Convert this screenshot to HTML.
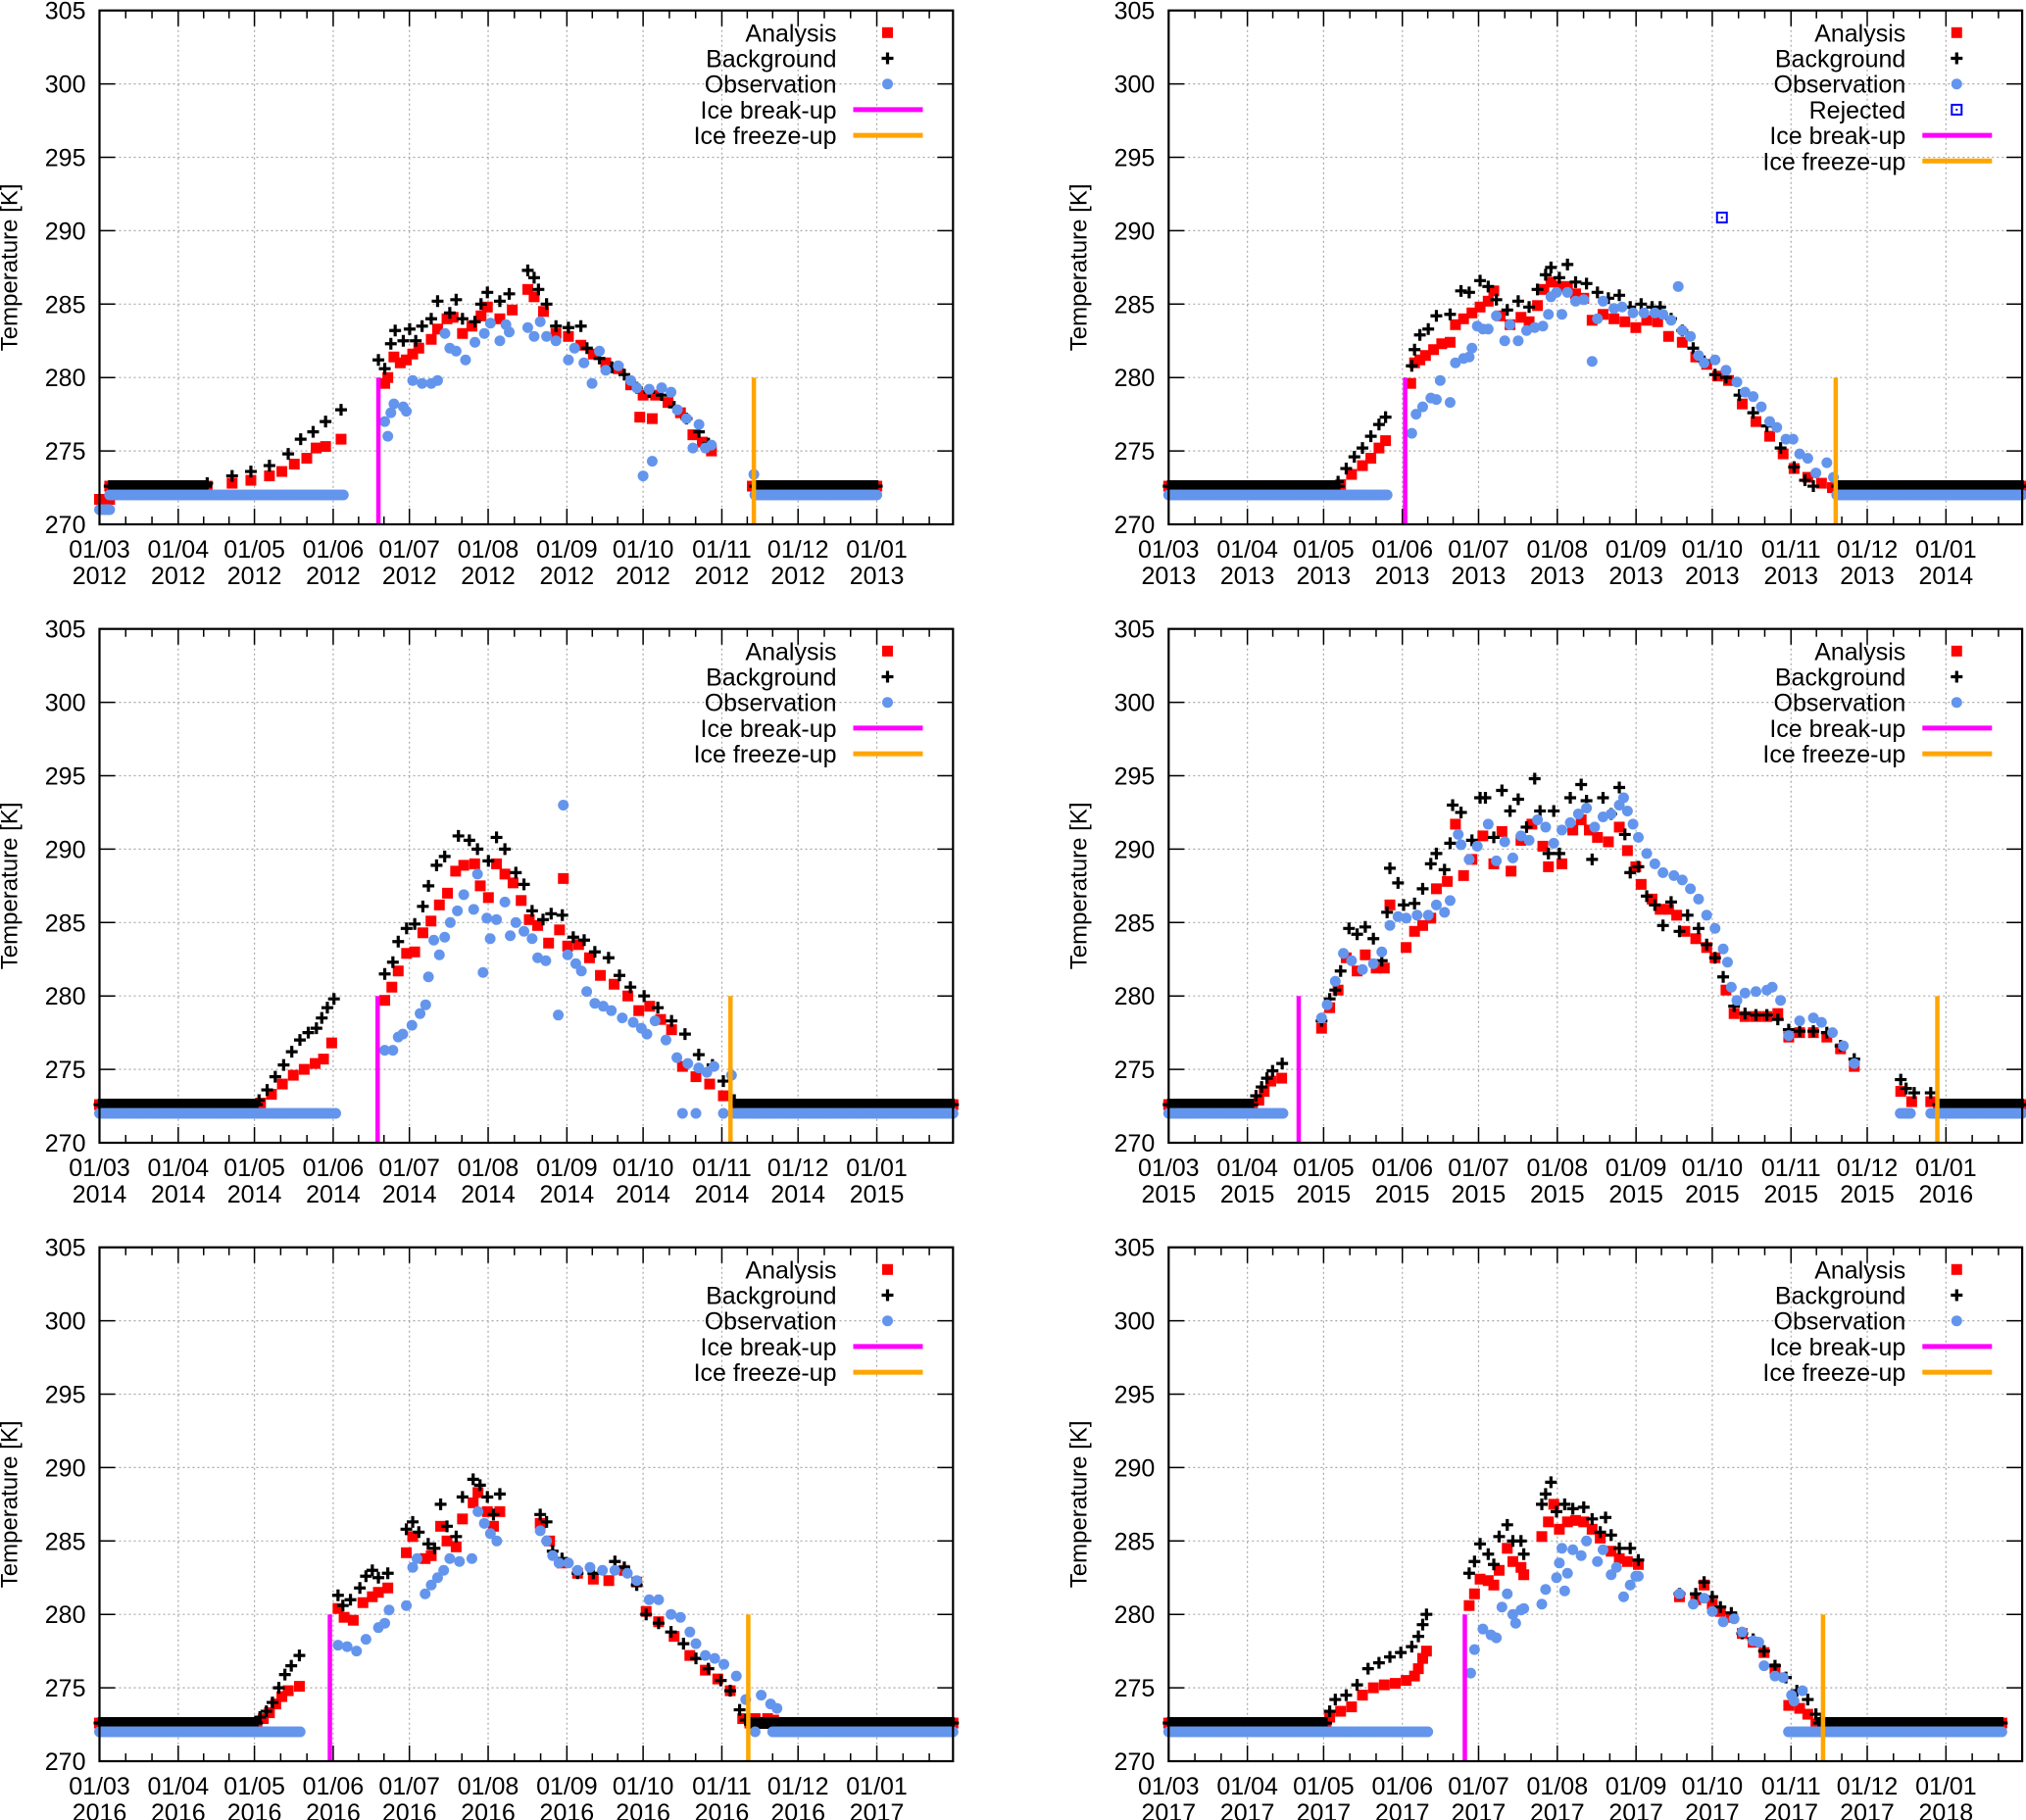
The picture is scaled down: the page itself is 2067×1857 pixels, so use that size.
<!DOCTYPE html>
<html><head><meta charset="utf-8"><title>Lake temperature panels</title>
<style>
html,body{margin:0;padding:0;background:#fff;}
svg{display:block;font-family:"Liberation Sans",sans-serif;}
</style></head>
<body>
<svg id="chart" width="2067" height="1857" viewBox="0 0 2067 1857" xmlns="http://www.w3.org/2000/svg"></svg>
<script>
// ---------- data ----------
const monthTickDays = [0,31,61,92,122,153,184,214,245,275,306];
const monthTickLabels = ["01/03","01/04","01/05","01/06","01/07","01/08","01/09","01/10","01/11","01/12","01/01"];
const yTicks = [270,275,280,285,290,295,300,305];
const panelYears = [2012,2013,2014,2015,2016,2017];

// 2012
const an2012Flat = [[0,4,271.7],[4,42,272.6],[257,306,272.6]];
const bg2012Flat = [[4,42,272.6],[258,306,272.6]];
const ob2012Flat = [[0,4,271.0],[4,96,272.0],[258,306,272.0]];
const an2012 = [[42.4,272.6],[52.2,272.8],[59.6,273.0],[66.9,273.3],[71.8,273.6],[76.7,274.1],[81.6,274.5],[85.3,275.2],[89,275.3],[95.1,275.8],
[112.3,279.6],[113.5,280.0],[115.9,281.4],[118.4,281.0],[120.8,281.2],[123.3,281.6],[125.7,282.0],[130.6,282.6],[133.1,283.3],[136.8,284.0],[139.2,284.1],[142.9,283.0],[146.6,283.5],[150.2,284.2],[152.7,284.8],[157.6,284.0],[162.5,284.6],[168.6,286.0],[171.1,285.5],[174.8,284.5],[179.7,283.0],[184.6,282.8],[189.5,282.2],[194.4,281.6],[199.3,281.0],[204.2,280.6],[209.1,279.5],[212.7,277.3],[214,278.8],[217.6,277.2],[218.9,278.8],[223.8,278.3],[228.7,277.6],[233.6,276.1],[237.3,275.6],[240.9,275.0]];
const bg2012 = [[42.4,272.8],[52.2,273.3],[59.6,273.6],[66.9,274.0],[74.3,274.8],[79.2,275.8],[84.1,276.3],[89,277.0],[95.1,277.8],
[109.8,281.2],[112.3,280.6],[114.7,282.3],[116.4,283.2],[119.6,282.5],[122.1,283.3],[124.5,282.5],[127,283.5],[130.6,284.0],[133.1,285.2],[137.9,284.4],[140.4,285.3],[142.9,284.0],[147.8,283.8],[150.2,285.0],[152.7,285.8],[157.6,285.2],[161.3,285.7],[168.6,287.3],[171.1,286.8],[172.8,286.0],[176,285.0],[179.7,283.5],[184.6,283.4],[189.5,283.5],[191.9,282.0],[196.8,281.3],[201.7,280.7],[206.6,280.2],[211.5,279.3],[216.4,279.0],[221.3,278.8],[226.2,278.0],[231.1,277.2],[236,276.3],[239.7,275.5]];
const ob2012 = [[113.5,276.0],[112.3,277.0],[114.7,277.6],[115.9,278.2],[119.6,278.0],[120.8,277.7],[123.3,279.8],[127,279.6],[130.6,279.6],[133.1,279.8],[136,283.0],[137.9,282.0],[140.4,281.8],[144.1,281.2],[147.8,282.4],[151.5,283.0],[153.9,283.7],[157.6,282.5],[160,283.6],[161.3,283.1],[168.6,283.4],[171.1,282.8],[173.5,283.8],[176,282.8],[179.7,282.5],[184.6,281.2],[187,282.0],[190.7,281.0],[193.9,279.6],[196.8,281.8],[199.3,280.5],[204.2,280.8],[209.1,279.8],[211.5,279.3],[214,273.3],[216.4,279.2],[217.6,274.3],[221.3,279.3],[225,279.0],[227.5,277.8],[231.1,277.2],[233.6,275.2],[236,276.8],[238.5,275.2],[240.9,275.4],[257.6,273.4]];

// 2013
const an2013Flat = [[0,67,272.6],[263,336,272.6]];
const bg2013Flat = [[0,67,272.6],[263,336,272.6]];
const ob2013Flat = [[0,86,272.0],[263,336,272.0]];
const an2013 = [[67.7,272.7],[72,273.4],[76.3,274.0],[79.6,274.5],[82.8,275.2],[85.4,275.7],
[95.3,279.6],[96.8,281.0],[98.9,281.2],[101.1,281.5],[104.3,281.9],[107.5,282.3],[110.8,282.4],[112.9,283.6],[116.1,284.0],[119.4,284.4],[122.6,284.8],[125.8,285.2],[128,285.9],[130.5,284.2],[134.4,283.6],[138.7,284.1],[141.9,283.8],[145.2,284.9],[147.7,286.0],[150.5,286.5],[153.8,286.2],[157,286.2],[160.2,285.7],[163.4,285.4],[166.7,283.9],[171,284.3],[175.3,284.0],[179.6,283.8],[183.9,283.4],[188.2,283.9],[192.5,283.8],[196.8,282.8],[202.2,282.4],[207.5,281.4],[211.8,280.9],[216.1,280.1],[220.4,279.8],[225.8,278.2],[231.2,277.0],[236.6,276.0],[241.9,274.8],[246.2,273.8],[251.6,273.2],[257,272.8],[261.3,272.5]];
const bg2013 = [[66.7,272.9],[69.9,273.8],[73.1,274.6],[76.3,275.2],[79.6,276.0],[82.8,276.8],[85.4,277.3],
[95.7,280.8],[96.8,281.9],[98.9,282.9],[102.2,283.3],[105.4,284.2],[110.8,284.3],[115.1,285.9],[118.3,285.8],[122.6,286.6],[125.8,286.2],[129,285.3],[133.3,284.6],[137.6,285.2],[141.9,284.8],[145.2,286.0],[148.4,287.0],[150.5,287.5],[153.8,286.8],[157,287.7],[160.2,286.5],[164.5,286.4],[168.8,285.8],[173.1,285.4],[177.4,285.6],[181.7,284.8],[186,285.0],[190.3,284.8],[193.5,284.8],[197.8,284.0],[202.2,283.2],[206.5,282.0],[210.8,281.1],[215.1,280.2],[219.4,280.0],[224.7,278.8],[230.1,277.6],[235.5,276.7],[240.9,275.2],[246.2,273.9],[250.5,273.0],[253.8,272.6]];
const ob2013 = [[95.7,276.2],[97.4,277.5],[100,278.0],[103.2,278.6],[105.4,278.5],[106.9,279.8],[110.8,278.3],[112.9,281.0],[116.1,281.3],[118.3,281.4],[119.4,282.0],[121.5,283.5],[123.7,283.3],[125.8,283.3],[129,284.2],[132.3,282.5],[134.4,283.6],[137.6,282.5],[140.9,283.2],[144.1,283.4],[147.3,283.5],[149.5,284.3],[150.5,285.5],[152.7,285.8],[154.8,284.3],[157,285.8],[160.2,285.2],[163.4,285.3],[166.7,281.1],[168.8,284.0],[171,285.2],[175.3,284.7],[178.5,284.8],[182.8,284.4],[187.1,284.4],[191.4,284.4],[194.6,284.3],[197.8,283.9],[200.6,286.2],[202.2,283.2],[205.4,282.8],[208.6,281.5],[210.8,281.0],[215.1,281.2],[219.4,280.5],[223.7,279.7],[226.9,279.0],[230.1,278.7],[233.3,278.0],[236.6,277.0],[239.4,276.6],[243,275.8],[245.8,275.8],[248.4,274.8],[251.6,274.5],[254.8,273.5],[259.1,274.2],[261.7,273.2]];
const rej2013 = [[217.8,290.9]];

// 2014
const an2014Flat = [[0,62,272.6],[250,336,272.6]];
const bg2014Flat = [[0,62,272.6],[250,336,272.6]];
const ob2014Flat = [[0,93,272.0],[250,336,272.0]];
const an2014 = [[63.4,272.7],[67.7,273.3],[72,274.0],[76.3,274.6],[80.6,275.0],[84.9,275.4],[88.2,275.7],[91.4,276.8],
[112.3,279.7],[115.1,280.6],[117.6,281.7],[120.9,282.9],[124.1,283.0],[127.3,284.3],[130.5,285.1],[133.8,286.2],[137,287.0],[140.2,288.5],[143.4,288.9],[147.7,289.0],[149.9,287.5],[153.1,286.7],[156.3,289.0],[159.6,288.3],[162.8,287.7],[166,286.5],[169.2,285.2],[172.5,284.8],[176.8,283.6],[181.1,284.5],[182.6,288.0],[184.3,283.4],[188.6,283.5],[192.9,282.6],[197.2,281.4],[202.6,280.8],[208,280.0],[212.3,279.0],[216.6,279.3],[220.9,278.4],[225.2,277.7],[229.5,275.2],[234.8,274.5],[240.2,274.0],[245.6,273.2],[249.9,272.6]];
const bg2014 = [[62.8,272.9],[66,273.6],[69.2,274.5],[72.5,275.3],[75.7,276.2],[78.9,277.0],[82.2,277.5],[85.4,277.8],[87.5,278.5],[89.7,279.2],[92.3,279.8],
[112.3,281.5],[115.5,282.3],[117.6,283.7],[120.9,284.6],[124.1,284.9],[127.3,286.1],[129.5,287.5],[132.7,288.9],[135.9,289.5],[141.3,290.9],[145.6,290.6],[148.8,290.0],[153.1,289.2],[156.3,290.8],[159.6,290.0],[163.9,288.4],[167.1,287.6],[170.3,285.8],[174.6,285.2],[177.8,285.6],[182.2,285.5],[186.5,284.0],[190.8,283.8],[195,283.0],[200.4,282.6],[204.7,281.4],[209,280.6],[214.4,280.0],[219.8,279.2],[225.2,278.3],[230.5,277.4],[235.9,276.0],[241.3,275.3],[245.6,274.2],[249.9,272.9]];
const ob2014 = [[112.3,276.3],[115.5,276.3],[117.6,277.2],[119.4,277.4],[123,278.0],[126.2,278.8],[128.4,279.4],[129.5,281.3],[131.6,283.8],[133.8,282.8],[135.9,284.0],[138.1,285.0],[140.9,285.8],[143.4,286.9],[147.3,285.9],[148.8,288.3],[151,281.6],[152.5,285.3],[153.8,283.9],[156.3,285.2],[159.6,286.4],[161.7,284.1],[163.9,285.0],[167.1,284.4],[170.3,283.9],[172.5,282.6],[175.7,282.4],[180.6,278.7],[182.6,293.0],[184.3,282.8],[187.5,282.2],[189.7,281.7],[191.8,280.3],[195,279.5],[198.3,279.3],[201.5,279.0],[205.8,278.5],[210.1,278.2],[213.3,277.8],[215.5,277.4],[218.7,278.3],[223,277.0],[227.3,275.8],[229.5,272.0],[231.6,275.4],[234.8,272.0],[235.9,275.1],[239.1,274.8],[241.9,275.2],[245.6,272.0],[248.8,274.6]];

// 2015
const an2015Flat = [[0,33,272.6],[303,336,272.6]];
const bg2015Flat = [[0,33,272.6],[303,336,272.6]];
const ob2015Flat = [[0,45,272.0],[288,292,272.0],[300,336,272.0]];
const an2015 = [[35.5,272.9],[37.6,273.5],[40.2,274.2],[44.5,274.4],
[60.2,277.8],[63.4,279.2],[66.7,280.4],[69.9,282.6],[74.2,281.7],[77.4,282.8],[81.7,281.9],[84.9,281.9],[87.1,286.2],[93.5,283.3],[96.8,284.4],[100,284.8],[103.2,285.3],[105.4,287.3],[109.7,287.8],[112.9,291.7],[116.1,288.2],[119.4,289.3],[123.7,290.9],[128,289.0],[131.2,291.2],[134.8,288.5],[138.7,290.6],[143,291.7],[147.3,290.2],[149.5,288.8],[154.8,289.0],[159.1,291.3],[162.4,292.0],[165.6,291.3],[168.8,290.8],[173.1,290.5],[177.4,291.5],[180.6,289.9],[183.9,288.8],[186,287.6],[190.3,286.6],[193.5,285.9],[196.8,285.9],[200,285.5],[203.2,284.4],[207.5,283.9],[211.8,283.3],[215.1,282.6],[219.4,280.4],[222.6,278.8],[226.9,278.6],[231.2,278.6],[235.5,278.6],[239.8,278.8],[244.1,277.2],[248.4,277.5],[253.8,277.5],[259.1,277.2],[264.5,276.4],[269.9,275.2],
[288.2,273.5],[292.5,272.8],[300,272.8]];
const bg2015 = [[34.4,273.2],[36.6,273.8],[38.7,274.4],[40.9,274.9],[44.7,275.4],
[60.2,278.3],[63.4,279.8],[65.6,280.4],[67.7,281.7],[71,284.6],[74.2,284.2],[77.4,284.7],[80.6,283.9],[83.9,282.4],[86,285.7],[87.1,288.7],[90.3,287.7],[92.5,286.2],[96.8,286.3],[100,287.3],[103.2,289.0],[105.4,289.7],[108.6,288.6],[110.8,290.4],[111.8,293.0],[115.1,292.5],[119.4,290.6],[122.6,293.5],[124.7,293.5],[128,290.8],[131.2,294.0],[134.4,292.6],[137.6,293.4],[140.9,291.5],[144.1,294.8],[146.2,292.6],[149.5,289.7],[151.6,292.6],[153.8,289.7],[158.1,293.5],[162.4,294.4],[164.5,293.3],[166.7,289.3],[171,293.5],[174.2,292.4],[177.4,294.2],[179.6,291.0],[181.7,288.4],[184.9,288.8],[188.2,286.8],[191.4,286.2],[194.6,284.8],[197.8,286.4],[201.1,284.4],[204.3,285.5],[208.6,284.6],[211.8,283.5],[215.1,282.6],[218.3,281.3],[222.6,279.3],[226.9,278.8],[231.2,278.7],[235.5,278.7],[239.8,278.4],[244.1,277.7],[248.4,277.6],[253.8,277.6],[259.1,277.5],[264.5,276.6],[269.9,275.7],
[288.2,274.3],[290.3,273.7],[293.5,273.4],[300,273.4]];
const ob2015 = [[60.2,278.5],[62.4,279.4],[65.6,281.0],[68.8,282.9],[72,282.4],[76.3,281.8],[80.6,282.2],[83.9,283.0],[87.1,284.8],[90.3,285.4],[93.5,285.3],[97.8,285.5],[102.2,285.5],[105.4,286.2],[108.6,285.7],[110.8,286.5],[114,291.0],[115.1,290.3],[118.3,289.3],[121.5,290.2],[125.8,291.7],[129,289.2],[132.3,290.5],[135.5,289.4],[138.7,290.9],[141.9,290.6],[145.2,292.0],[148.4,291.5],[151.6,290.4],[154.8,291.3],[158.1,291.8],[161.3,292.4],[164.5,292.8],[167.7,291.5],[171,292.2],[174.2,292.4],[177.4,293.0],[179.1,293.5],[180.6,292.6],[182.8,291.7],[184.9,290.8],[188.2,289.7],[191.4,289.0],[194.6,288.4],[198.9,288.2],[202.2,287.9],[205.4,287.3],[208.6,286.6],[211.8,285.5],[215.1,284.6],[218.3,283.2],[220,282.3],[221.5,280.6],[223.7,279.7],[226.9,280.2],[231.2,280.3],[235.5,280.4],[237.6,280.6],[240.9,279.7],[244.1,277.3],[248.4,278.3],[253.8,278.5],[257,278.2],[261.3,277.5],[265.6,276.6],[269.9,275.4]];

// 2016
const an2016Flat = [[0,62,272.6],[256,336,272.6]];
const bg2016Flat = [[0,62,272.6],[256,336,272.6]];
const ob2016Flat = [[0,79,272.0],[265,336,272.0]];
const an2016 = [[64.5,272.9],[66.9,273.3],[69.4,273.9],[71.8,274.4],[74.3,274.8],[78.7,275.1],
[93.9,280.4],[96.3,279.8],[99.9,279.6],[103.7,280.8],[107.4,281.2],[109.8,281.5],[113.5,281.8],[120.8,284.2],[123.3,285.3],[128.2,283.8],[130.6,284.0],[134.3,286.0],[136.8,285.0],[140.4,284.6],[142.9,286.5],[147.1,287.6],[149,288.3],[152.7,287.0],[155.1,286.0],[157.6,287.0],[173.5,286.2],[177.2,285.0],[182.1,283.5],[188.2,282.8],[194.4,282.4],[200.5,282.3],[206.6,283.0],[211.5,282.2],[215.2,280.2],[220.1,279.5],[226.2,278.5],[232.4,277.2],[238.5,276.2],[243.4,275.6],[248.3,274.8],[253.2,272.9],[258.1,272.9],[263,272.9],[265.4,272.8]];
const bg2016 = [[63.2,273.0],[65.7,273.4],[68.1,274.0],[70.6,275.0],[73,275.9],[75.5,276.5],[78.7,277.2],
[93.9,281.3],[95.8,280.6],[98.8,281.0],[102.5,281.8],[104.9,282.6],[107.4,283.0],[109.8,282.5],[113.5,282.8],[120.8,285.8],[123.3,286.3],[125.7,285.6],[129.4,284.8],[131.9,284.5],[134.3,287.5],[136.8,286.0],[140.4,285.3],[142.9,288.0],[147.1,289.2],[149.8,288.8],[152.7,288.0],[155.1,286.8],[157.6,288.2],[173.5,286.8],[176,286.3],[178.4,284.3],[182.1,283.8],[188.2,282.8],[194.4,282.8],[202.9,283.6],[206.6,283.2],[211.5,282.0],[215.2,280.0],[220.1,279.4],[225,278.8],[229.9,278.0],[234.8,277.0],[239.7,276.3],[244.6,275.5],[248.3,274.8],[252,273.5],[254.4,272.8]];
const ob2016 = [[93.9,277.9],[97.5,277.8],[101.2,277.5],[104.9,278.3],[109.8,279.1],[112.3,279.4],[114,280.3],[120.8,280.6],[123.3,283.2],[125,283.8],[128.2,281.4],[130.6,282.0],[133.1,282.5],[135.5,283.0],[137.9,283.8],[141.7,283.6],[146.6,283.8],[149,287.0],[151.5,286.2],[153.9,285.5],[156.4,285.0],[173.5,285.7],[176,285.0],[178.4,284.0],[180.9,283.5],[184.6,283.5],[188.2,283.0],[193.1,283.2],[198,283.0],[202.9,283.0],[207.8,282.8],[211.5,282.3],[216.4,281.0],[220.1,281.0],[225,280.0],[228.7,279.8],[232.4,278.8],[234.8,278.0],[238.5,277.2],[242.2,277.0],[245.8,276.6],[250.7,275.8],[254.4,274.2],[258.1,272.0],[260.5,274.5],[264.2,273.9],[266.7,273.6]];

// 2017
const an2017Flat = [[0,62,272.6],[256,328,272.6]];
const bg2017Flat = [[0,62,272.6],[256,328,272.6]];
const ob2017Flat = [[0,102,272.0],[244,328,272.0]];
const an2017 = [[63.4,273.0],[67.7,273.4],[72,273.7],[76.3,274.5],[80.6,275.0],[84.9,275.2],[89.2,275.3],[93.5,275.5],[96.8,275.8],[98.3,276.3],[100,277.0],[101.5,277.5],
[118.3,280.6],[120.4,281.4],[122.6,282.4],[125.8,282.3],[128,282.0],[130.1,283.0],[133.3,284.5],[135.5,283.6],[138.7,283.2],[139.8,282.7],[146.9,285.3],[149.5,286.3],[151.6,287.5],[153.8,285.8],[157,286.3],[160.2,286.4],[163.4,286.3],[166.7,285.8],[169.9,285.2],[174.2,284.3],[177.4,283.8],[180.6,283.6],[184.9,283.4],[201.1,281.2],[207.5,281.0],[210.8,282.0],[214,280.7],[217.2,280.2],[221.5,279.8],[225.8,278.7],[230.1,278.1],[234.4,277.4],[238.7,276.3],[244.1,273.8],[248.4,273.6],[251.6,273.2],[254.8,272.5]];
const bg2017 = [[63.4,273.4],[65.6,274.2],[69.9,274.5],[74.2,275.2],[78.5,276.3],[82.8,276.7],[87.1,277.1],[91.4,277.4],[95.7,277.8],[98.3,278.5],[100,279.3],[101.5,280.0],
[118.3,282.8],[120.4,283.6],[122.6,284.8],[125.8,284.1],[128,283.4],[130.1,285.3],[133.3,286.1],[135.5,285.0],[138.7,285.0],[139.8,284.1],[146.9,287.5],[148.4,288.2],[150.5,289.0],[152.7,287.0],[155.9,287.5],[159.1,287.2],[163.4,287.3],[166.7,286.5],[169.9,285.6],[172,286.6],[174.2,285.4],[177.4,284.5],[181.7,284.5],[184.9,283.7],[201.1,281.4],[207.5,281.4],[210.8,282.2],[214,281.2],[217.2,280.5],[221.5,280.1],[225.8,278.7],[230.1,278.3],[234.4,277.5],[238.7,276.5],[243,275.7],[247.3,274.8],[251.6,274.2],[254.8,273.2],[257,272.7]];
const ob2017 = [[118.9,276.0],[120.4,277.6],[123.7,279.0],[126.9,278.6],[129,278.4],[131.2,280.5],[133.3,281.4],[135.5,280.0],[136.6,279.4],[138.7,280.3],[139.8,280.4],[146.9,280.7],[148.4,281.7],[152.7,282.5],[153.8,283.5],[154.8,284.5],[155.9,281.6],[157,282.8],[159.1,284.4],[162.4,284.0],[164.5,285.0],[168.8,283.6],[171,284.4],[174.2,282.7],[176.3,283.2],[179.1,281.2],[181.7,282.0],[183.9,282.6],[184.9,282.6],[201.1,281.4],[206.5,280.7],[210.8,281.1],[214,280.2],[218.3,279.5],[222.6,279.7],[225.8,278.8],[230.1,278.2],[232.3,278.1],[234.4,276.5],[238.7,275.8],[241.9,275.7],[245.2,274.5],[246.2,274.1],[249.5,274.8]];

const breakupDays = [109.8,93.1,109.5,51.2,90.7,116.6];
const freezeDays = [257.6,262.6,248.4,302.6,255.4,257.6];

// ---------- layout ----------
const panels = [
 {year:2012,x0:101.5,y0:10.7,an:an2012,bg:bg2012,ob:ob2012,anF:an2012Flat,bgF:bg2012Flat,obF:ob2012Flat,rej:null},
 {year:2013,x0:1192.3,y0:10.7,an:an2013,bg:bg2013,ob:ob2013,anF:an2013Flat,bgF:bg2013Flat,obF:ob2013Flat,rej:rej2013},
 {year:2014,x0:101.5,y0:641.7,an:an2014,bg:bg2014,ob:ob2014,anF:an2014Flat,bgF:bg2014Flat,obF:ob2014Flat,rej:null},
 {year:2015,x0:1192.3,y0:641.7,an:an2015,bg:bg2015,ob:ob2015,anF:an2015Flat,bgF:bg2015Flat,obF:ob2015Flat,rej:null},
 {year:2016,x0:101.5,y0:1272.7,an:an2016,bg:bg2016,ob:ob2016,anF:an2016Flat,bgF:bg2016Flat,obF:ob2016Flat,rej:null},
 {year:2017,x0:1192.3,y0:1272.7,an:an2017,bg:bg2017,ob:ob2017,anF:an2017Flat,bgF:bg2017Flat,obF:ob2017Flat,rej:null}
];
const PW=870.8, PH=524.3, XMAX=336, YMIN=270, YMAX=305;
const NS="http://www.w3.org/2000/svg";
const svg=document.getElementById('chart');

function mk(tag,attrs,parent){const e=document.createElementNS(NS,tag);for(const k in attrs)e.setAttribute(k,attrs[k]);(parent||svg).appendChild(e);return e;}
function sx(p,d){return p.x0+d/XMAX*PW;}
function sy(p,v){return p.y0+(YMAX-v)/(YMAX-YMIN)*PH;}

function drawSquare(g,x,y){const e=mk('rect',{x:x-5.5,y:y-5.5,width:11,height:11,fill:'#ff0000'},g);

}
function drawPlus(g,x,y){const e=mk('path',{d:`M${x-6} ${y}H${x+6}M${x} ${y-6}V${y+6}`,stroke:'#000',"stroke-width":3.2,fill:'none'},g);

}
function drawCircle(g,x,y){const e=mk('circle',{cx:x,cy:y,r:5.5,fill:'#6495ed'},g);

}

panels.forEach((p,i)=>{
  const g=mk('g',{});
  
  
  const right=p.x0+PW, bottom=p.y0+PH;
  yTicks.forEach(v=>{ if(v>YMIN&&v<YMAX){const l=mk('line',{x1:p.x0,x2:right,y1:sy(p,v),y2:sy(p,v),stroke:'#a8a8a8','stroke-width':1.2,'stroke-dasharray':'2,3'},g);
    
    }});
  monthTickDays.forEach(d=>{ if(d>0){const l=mk('line',{x1:sx(p,d),x2:sx(p,d),y1:p.y0,y2:bottom,stroke:'#a8a8a8','stroke-width':1.2,'stroke-dasharray':'2,3'},g);
    
    }});
  monthTickDays.forEach((d,k)=>{
    const nx = k<monthTickDays.length-1? monthTickDays[k+1] : d+31;
    [1,2].forEach(j=>{const dd=d+(nx-d)*j/3; if(dd<XMAX){const x=sx(p,dd);
      mk('path',{d:`M${x} ${bottom}V${bottom-8}M${x} ${p.y0}V${p.y0+8}`,stroke:'#000','stroke-width':1.5},g);}});
  });
  monthTickDays.forEach(d=>{const x=sx(p,d);
    mk('path',{d:`M${x} ${bottom}V${bottom-16}M${x} ${p.y0}V${p.y0+16}`,stroke:'#000','stroke-width':1.5},g);});
  yTicks.forEach(v=>{const y=sy(p,v);
    mk('path',{d:`M${p.x0} ${y}H${p.x0+16}M${right} ${y}H${right-16}`,stroke:'#000','stroke-width':1.5},g);});
  const dg=mk('g',{},g);
  
  
  p.anF.forEach(r=>{for(let d=r[0];d<=r[1];d+=1)drawSquare(dg,sx(p,d),sy(p,r[2]));});
  p.an.forEach(q=>drawSquare(dg,sx(p,q[0]),sy(p,q[1])));
  p.bgF.forEach(r=>{for(let d=r[0];d<=r[1];d+=1)drawPlus(dg,sx(p,d),sy(p,r[2]));});
  p.bg.forEach(q=>drawPlus(dg,sx(p,q[0]),sy(p,q[1])));
  p.obF.forEach(r=>{for(let d=r[0];d<=r[1];d+=1)drawCircle(dg,sx(p,d),sy(p,r[2]));});
  p.ob.forEach(q=>drawCircle(dg,sx(p,q[0]),sy(p,q[1])));
  if(p.rej){p.rej.forEach(q=>{const x=sx(p,q[0]),y=sy(p,q[1]);
    const r=mk('rect',{x:x-5,y:y-5,width:10,height:10,fill:'none',stroke:'#0000ff','stroke-width':2},dg);
    
    
    mk('rect',{x:x-1,y:y-1,width:2,height:2,fill:'#0000ff'},dg);});}
  const bx=sx(p,breakupDays[i]);
  const bl=mk('line',{x1:bx,x2:bx,y1:sy(p,270),y2:sy(p,280),stroke:'#ff00ff','stroke-width':4.5},g);
  
  
  const fx=sx(p,freezeDays[i]);
  const fl=mk('line',{x1:fx,x2:fx,y1:sy(p,270),y2:sy(p,280),stroke:'#ffa500','stroke-width':4.5},g);
  
  
  const fr=mk('rect',{x:p.x0,y:p.y0,width:PW,height:PH,fill:'none',stroke:'#000','stroke-width':2.2},g);
  
  
  yTicks.forEach(v=>{const t=mk('text',{x:p.x0-14,y:sy(p,v)+9,'text-anchor':'end','font-size':25},g);
    t.textContent=v;
    
    });
  monthTickDays.forEach((d,k)=>{const x=sx(p,d);
    const yr = k===monthTickDays.length-1? p.year+1 : p.year;
    const t=mk('text',{x:x,y:bottom+34,'text-anchor':'middle','font-size':25},g);
    t.textContent=monthTickLabels[k];
    
    
    const t2=mk('text',{x:x,y:bottom+61,'text-anchor':'middle','font-size':25},g);
    t2.textContent=yr;
    
    });
  const tx=p.x0-84, ty=p.y0+PH/2;
  const yt=mk('text',{x:tx,y:ty,'text-anchor':'middle','font-size':24,transform:`rotate(-90 ${tx} ${ty})`},g);
  yt.textContent='Temperature [K]';
  
  
  const entries=[['Analysis','sq'],['Background','plus'],['Observation','circ']];
  if(p.rej) entries.push(['Rejected','rej']);
  entries.push(['Ice break-up','mag'],['Ice freeze-up','org']);
  const lg=mk('g',{},g);
  
  
  entries.forEach((e,k)=>{const y=p.y0+22.6+k*26.2;
    const t=mk('text',{x:p.x0+752,y:y+9,'text-anchor':'end','font-size':25},lg);
    t.textContent=e[0];
    
    
    const sxm=p.x0+804;
    if(e[1]==='sq') drawSquare(lg,sxm,y);
    else if(e[1]==='plus') drawPlus(lg,sxm,y);
    else if(e[1]==='circ') drawCircle(lg,sxm,y);
    else if(e[1]==='rej'){mk('rect',{x:sxm-5,y:y-5,width:10,height:10,fill:'none',stroke:'#0000ff','stroke-width':2},lg);mk('rect',{x:sxm-1,y:y-1,width:2,height:2,fill:'#0000ff'},lg);}
    else mk('line',{x1:p.x0+769,x2:p.x0+840,y1:y,y2:y,stroke:e[1]==='mag'?'#ff00ff':'#ffa500','stroke-width':5},lg);
  });
});
</script>
</body></html>
